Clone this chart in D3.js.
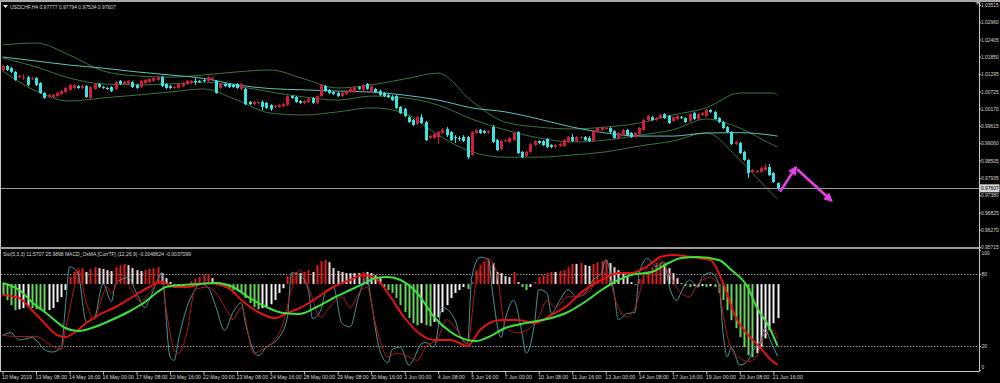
<!DOCTYPE html>
<html>
<head>
<meta charset="utf-8">
<script src="https://cdn.jsdelivr.net/npm/d3@7/dist/d3.min.js"></script>
<style>
  body { margin: 0; background: #000; }
  svg { display: block; }
  text { font-family: "Liberation Sans", Arial, sans-serif; }
</style>
</head>
<body>
<svg width="1000" height="383"></svg>
<script>
// ---------- data ----------
const symbolTitle = "USDCHF,H4 0.97777 0.97794 0.97534 0.97607";
const indicatorTitle = "Sto(5,3,3) 11.5707 25.9898  MACD_OsMA [CurrTF] (12,26,9) -0.0048624 -0.0037099";

const timeLabels = ["10 May 2019", "13 May 08:00", "14 May 16:00", "16 May 00:00", "17 May 08:00", "20 May 16:00",
    "22 May 00:00", "23 May 08:00", "24 May 16:00", "28 May 00:00", "29 May 08:00", "30 May 16:00",
    "3 Jun 00:00", "4 Jun 08:00", "5 Jun 16:00", "7 Jun 00:00", "10 Jun 08:00", "11 Jun 16:00",
    "13 Jun 00:00", "14 Jun 08:00", "17 Jun 16:00", "19 Jun 00:00", "20 Jun 08:00", "21 Jun 16:00"];
const timeTickBars = [0, 8, 16, 24, 32, 40, 48, 56, 64, 72, 80, 88, 96, 104, 112, 120, 128, 136, 144, 152, 160, 168, 176, 184];

const priceTicks = [1.03515, 1.02960, 1.02405, 1.01850, 1.01295, 1.00725, 1.00170, 0.99615,
    0.99060, 0.98505, 0.97935, 0.97380, 0.96825, 0.96270, 0.95715];
const stochLevels = [20, 80];
const stochTicks = [0, 20, 80, 100];
const lastPrice = 0.97607;

// H4 candles, one entry per bar
const opens = [
    1.0142, 1.0155, 1.0148, 1.0136, 1.0119, 1.0116, 1.0119, 1.0113, 1.0116, 1.0100,
    1.0068, 1.0055, 1.0055, 1.0058, 1.0065, 1.0071, 1.0078, 1.0084, 1.0090, 1.0084,
    1.0090, 1.0052, 1.0081, 1.0097, 1.0087, 1.0084, 1.0087, 1.0081, 1.0107, 1.0097,
    1.0097, 1.0103, 1.0094, 1.0087, 1.0100, 1.0103, 1.0107, 1.0110, 1.0119, 1.0097,
    1.0090, 1.0084, 1.0084, 1.0090, 1.0097, 1.0100, 1.0107, 1.0107, 1.0110, 1.0107,
    1.0110, 1.0107, 1.0084, 1.0097, 1.0097, 1.0094, 1.0097, 1.0081, 1.0081, 1.0039,
    1.0032, 1.0036, 1.0039, 1.0036, 1.0029, 1.0023, 1.0023, 1.0026, 1.0029, 1.0058,
    1.0055, 1.0042, 1.0036, 1.0039, 1.0052, 1.0036, 1.0058, 1.0090, 1.0078, 1.0071,
    1.0068, 1.0058, 1.0065, 1.0071, 1.0071, 1.0087, 1.0078, 1.0097, 1.0074, 1.0081,
    1.0074, 1.0068, 1.0061, 1.0055, 1.0058, 1.0023, 1.0016, 0.9990, 0.9981, 0.9968,
    0.9990, 0.9974, 0.9923, 0.9923, 0.9926, 0.9939, 0.9952, 0.9942, 0.9926, 0.9923,
    0.9926, 0.9926, 0.9868, 0.9939, 0.9949, 0.9945, 0.9939, 0.9958, 0.9916, 0.9887,
    0.9913, 0.9910, 0.9916, 0.9942, 0.9878, 0.9865, 0.9878, 0.9900, 0.9913, 0.9913,
    0.9920, 0.9900, 0.9894, 0.9897, 0.9897, 0.9910, 0.9926, 0.9913, 0.9923, 0.9926,
    0.9923, 0.9913, 0.9942, 0.9949, 0.9952, 0.9955, 0.9945, 0.9923, 0.9932, 0.9949,
    0.9939, 0.9926, 0.9936, 0.9949, 0.9981, 0.9990, 0.9981, 0.9987, 1.0000, 0.9994,
    0.9978, 0.9984, 0.9990, 0.9987, 0.9978, 1.0003, 0.9984, 0.9997, 0.9994, 1.0013,
    1.0007, 0.9987, 0.9974, 0.9958, 0.9942, 0.9903, 0.9907, 0.9878, 0.9852, 0.9813,
    0.9813, 0.9813, 0.9820, 0.9829, 0.9810, 0.97777];
const highs = [
    1.0158, 1.0158, 1.0152, 1.0139, 1.0126, 1.0129, 1.0123, 1.0119, 1.0119, 1.0103,
    1.0071, 1.0065, 1.0065, 1.0071, 1.0078, 1.0087, 1.0097, 1.0097, 1.0094, 1.0094,
    1.0094, 1.0090, 1.0100, 1.0100, 1.0090, 1.0087, 1.0090, 1.0107, 1.0110, 1.0107,
    1.0110, 1.0107, 1.0097, 1.0110, 1.0113, 1.0116, 1.0119, 1.0123, 1.0123, 1.0100,
    1.0094, 1.0090, 1.0100, 1.0103, 1.0110, 1.0110, 1.0116, 1.0110, 1.0116, 1.0123,
    1.0119, 1.0110, 1.0100, 1.0100, 1.0100, 1.0097, 1.0100, 1.0100, 1.0084, 1.0042,
    1.0042, 1.0042, 1.0045, 1.0039, 1.0032, 1.0029, 1.0032, 1.0036, 1.0061, 1.0061,
    1.0058, 1.0045, 1.0045, 1.0052, 1.0055, 1.0061, 1.0097, 1.0094, 1.0081, 1.0074,
    1.0071, 1.0071, 1.0078, 1.0084, 1.0090, 1.0090, 1.0097, 1.0100, 1.0094, 1.0084,
    1.0078, 1.0071, 1.0065, 1.0061, 1.0061, 1.0026, 1.0020, 0.9994, 0.9984, 0.9994,
    1.0000, 0.9978, 0.9932, 0.9939, 0.9945, 0.9955, 0.9958, 0.9945, 0.9932, 0.9929,
    0.9932, 0.9929, 0.9945, 0.9952, 0.9952, 0.9949, 0.9949, 0.9965, 0.9920, 0.9916,
    0.9920, 0.9926, 0.9942, 0.9945, 0.9881, 0.9881, 0.9907, 0.9916, 0.9916, 0.9916,
    0.9923, 0.9903, 0.9903, 0.9907, 0.9920, 0.9929, 0.9936, 0.9929, 0.9929, 0.9929,
    0.9929, 0.9949, 0.9958, 0.9961, 0.9958, 0.9958, 0.9949, 0.9942, 0.9952, 0.9952,
    0.9942, 0.9942, 0.9958, 0.9984, 0.9997, 0.9994, 0.9990, 1.0000, 1.0003, 0.9997,
    0.9994, 0.9997, 0.9994, 0.9990, 1.0003, 1.0007, 1.0003, 1.0007, 1.0016, 1.0016,
    1.0010, 0.9990, 0.9978, 0.9961, 0.9945, 0.9913, 0.9910, 0.9881, 0.9855, 0.9823,
    0.9820, 0.9829, 0.9839, 0.9839, 0.9813, 0.97794];
const lows = [
    1.0139, 1.0139, 1.0132, 1.0107, 1.0116, 1.0110, 1.0090, 1.0110, 1.0090, 1.0065,
    1.0049, 1.0052, 1.0052, 1.0055, 1.0061, 1.0068, 1.0074, 1.0081, 1.0081, 1.0081,
    1.0052, 1.0049, 1.0078, 1.0084, 1.0081, 1.0078, 1.0071, 1.0078, 1.0094, 1.0094,
    1.0094, 1.0084, 1.0081, 1.0084, 1.0097, 1.0100, 1.0103, 1.0107, 1.0087, 1.0081,
    1.0081, 1.0081, 1.0081, 1.0087, 1.0094, 1.0097, 1.0094, 1.0100, 1.0103, 1.0103,
    1.0107, 1.0065, 1.0081, 1.0087, 1.0084, 1.0084, 1.0081, 1.0078, 1.0029, 1.0029,
    1.0029, 1.0032, 1.0013, 1.0016, 1.0010, 1.0020, 1.0020, 1.0023, 1.0026, 1.0049,
    1.0036, 1.0032, 1.0032, 1.0036, 1.0032, 1.0032, 1.0055, 1.0071, 1.0065, 1.0061,
    1.0055, 1.0055, 1.0061, 1.0068, 1.0068, 1.0078, 1.0074, 1.0078, 1.0071, 1.0068,
    1.0058, 1.0055, 1.0052, 1.0042, 1.0016, 1.0000, 0.9990, 0.9971, 0.9961, 0.9965,
    0.9968, 0.9913, 0.9920, 0.9920, 0.9903, 0.9936, 0.9926, 0.9913, 0.9907, 0.9913,
    0.9910, 0.9855, 0.9865, 0.9936, 0.9936, 0.9936, 0.9936, 0.9907, 0.9881, 0.9884,
    0.9910, 0.9907, 0.9913, 0.9871, 0.9858, 0.9861, 0.9874, 0.9897, 0.9903, 0.9897,
    0.9890, 0.9890, 0.9890, 0.9894, 0.9894, 0.9907, 0.9910, 0.9910, 0.9920, 0.9913,
    0.9910, 0.9910, 0.9939, 0.9945, 0.9949, 0.9939, 0.9920, 0.9920, 0.9929, 0.9929,
    0.9923, 0.9923, 0.9932, 0.9945, 0.9978, 0.9978, 0.9978, 0.9984, 0.9984, 0.9968,
    0.9974, 0.9981, 0.9984, 0.9971, 0.9974, 0.9981, 0.9981, 0.9994, 0.9990, 1.0003,
    0.9981, 0.9971, 0.9952, 0.9939, 0.9900, 0.9900, 0.9871, 0.9849, 0.9794, 0.9810,
    0.9810, 0.9810, 0.9816, 0.9800, 0.9778, 0.97534];
const closes = [
    1.0155, 1.0142, 1.0136, 1.0110, 1.0123, 1.0119, 1.0094, 1.0116, 1.0094, 1.0068,
    1.0052, 1.0061, 1.0061, 1.0068, 1.0074, 1.0084, 1.0094, 1.0094, 1.0084, 1.0090,
    1.0055, 1.0087, 1.0097, 1.0087, 1.0084, 1.0081, 1.0074, 1.0103, 1.0097, 1.0103,
    1.0107, 1.0087, 1.0084, 1.0107, 1.0110, 1.0113, 1.0116, 1.0119, 1.0090, 1.0084,
    1.0084, 1.0087, 1.0097, 1.0100, 1.0107, 1.0107, 1.0103, 1.0103, 1.0107, 1.0119,
    1.0116, 1.0068, 1.0097, 1.0090, 1.0087, 1.0087, 1.0084, 1.0097, 1.0032, 1.0032,
    1.0039, 1.0039, 1.0023, 1.0020, 1.0016, 1.0026, 1.0029, 1.0032, 1.0058, 1.0052,
    1.0039, 1.0036, 1.0042, 1.0049, 1.0036, 1.0058, 1.0094, 1.0074, 1.0068, 1.0065,
    1.0058, 1.0068, 1.0074, 1.0081, 1.0087, 1.0081, 1.0094, 1.0081, 1.0090, 1.0071,
    1.0061, 1.0058, 1.0055, 1.0045, 1.0020, 1.0003, 0.9994, 0.9974, 0.9965, 0.9990,
    0.9971, 0.9916, 0.9929, 0.9936, 0.9942, 0.9949, 0.9932, 0.9916, 0.9923, 0.9920,
    0.9913, 0.9861, 0.9942, 0.9949, 0.9939, 0.9939, 0.9945, 0.9910, 0.9884, 0.9913,
    0.9916, 0.9923, 0.9939, 0.9874, 0.9861, 0.9878, 0.9903, 0.9913, 0.9907, 0.9900,
    0.9894, 0.9894, 0.9900, 0.9903, 0.9916, 0.9926, 0.9913, 0.9926, 0.9926, 0.9916,
    0.9913, 0.9945, 0.9955, 0.9958, 0.9955, 0.9942, 0.9923, 0.9939, 0.9949, 0.9932,
    0.9926, 0.9939, 0.9955, 0.9981, 0.9994, 0.9981, 0.9987, 0.9997, 0.9987, 0.9971,
    0.9990, 0.9994, 0.9987, 0.9974, 1.0000, 0.9984, 1.0000, 1.0003, 1.0013, 1.0007,
    0.9984, 0.9974, 0.9955, 0.9942, 0.9903, 0.9910, 0.9874, 0.9852, 0.9810, 0.9820,
    0.9816, 0.9826, 0.9829, 0.9803, 0.9781, 0.97607];

// Bollinger bands and slow MA, read every 8 bars
const bandBars = [0, 8, 16, 24, 32, 40, 48, 56, 64, 72, 80, 88, 96, 104, 112, 120, 128, 136, 144, 152, 160, 168, 176, 184, 185];
const bbUpper = [1.0223, 1.0229, 1.0190, 1.0139, 1.0123, 1.0119, 1.0126, 1.0136, 1.0142, 1.0113, 1.0084, 1.0094, 1.0113,
    1.0132, 1.0042, 0.9974, 0.9958, 0.9952, 0.9958, 0.9971, 0.9997, 1.0020, 1.0068, 1.0068, 1.0061];
const bbMiddle = [1.0181, 1.0152, 1.0116, 1.0097, 1.0094, 1.0097, 1.0103, 1.0090, 1.0071, 1.0055, 1.0045, 1.0058, 1.0052,
    1.0029, 0.9984, 0.9949, 0.9923, 0.9910, 0.9916, 0.9932, 0.9949, 0.9984, 0.9955, 0.9900, 0.9894];
const bbLower = [1.0139, 1.0074, 1.0042, 1.0052, 1.0061, 1.0071, 1.0081, 1.0045, 1.0003, 0.9997, 1.0007, 1.0020, 1.0003,
    0.9932, 0.9878, 0.9861, 0.9861, 0.9868, 0.9878, 0.9897, 0.9913, 0.9939, 0.9852, 0.9739, 0.9726];
const maSlow = [1.0184, 1.0171, 1.0158, 1.0148, 1.0136, 1.0126, 1.0115, 1.0094, 1.0082, 1.0078, 1.0074, 1.0071, 1.0061,
    1.0045, 1.0020, 1.0007, 0.9984, 0.9958, 0.9939, 0.9929, 0.9929, 0.9939, 0.9940, 0.9931, 0.9929];

// MACD_OsMA histogram, one value per bar
const osma = [
    -0.00037, -0.00054, -0.00071, -0.00088, -0.00085, -0.00081, -0.00078, -0.00081, -0.00085, -0.00088,
    -0.00091, -0.00088, -0.00081, -0.00061, -0.00044, -0.00020, 0.00024, 0.00041, 0.00047, 0.00054,
    0.00041, 0.00051, 0.00057, 0.00054, 0.00051, 0.00047, 0.00044, 0.00057, 0.00064, 0.00068,
    0.00064, 0.00054, 0.00047, 0.00044, 0.00047, 0.00051, 0.00054, 0.00057, 0.00037, 0.00020,
    0.00007, -0.00010, -0.00010, -0.00007, -0.00003, 0.00010, 0.00017, 0.00024, 0.00030, 0.00034,
    0.00020, 0.00007, -0.00007, -0.00010, -0.00017, -0.00020, -0.00024, -0.00030, -0.00047, -0.00064,
    -0.00078, -0.00085, -0.00081, -0.00078, -0.00068, -0.00054, -0.00030, -0.00014, 0.00027, 0.00037,
    0.00041, 0.00037, 0.00041, 0.00047, 0.00041, 0.00064, 0.00078, 0.00081, 0.00074, 0.00054,
    0.00044, 0.00041, 0.00037, 0.00037, 0.00037, 0.00037, 0.00041, 0.00041, 0.00037, 0.00030,
    0.00020, -0.00010, -0.00020, -0.00030, -0.00047, -0.00071, -0.00095, -0.00115, -0.00132, -0.00139,
    -0.00132, -0.00139, -0.00142, -0.00128, -0.00112, -0.00095, -0.00071, -0.00047, -0.00030, -0.00020,
    -0.00010, -0.00017, 0.00007, 0.00047, 0.00064, 0.00074, 0.00081, 0.00071, 0.00041, 0.00037,
    0.00027, 0.00024, 0.00041, 0.00007, -0.00010, -0.00020, -0.00010, 0.00007, 0.00024, 0.00030,
    0.00037, 0.00041, 0.00041, 0.00044, 0.00047, 0.00057, 0.00068, 0.00068, 0.00071, 0.00064,
    0.00061, 0.00068, 0.00074, 0.00078, 0.00081, 0.00071, 0.00057, 0.00047, 0.00037, 0.00024,
    0.00007, -0.00003, 0.00017, 0.00034, 0.00044, 0.00057, 0.00071, 0.00074, 0.00068, 0.00054,
    0.00037, 0.00020, 0.00003, -0.00007, -0.00010, -0.00007, -0.00010, -0.00007, -0.00010, -0.00007,
    -0.00010, -0.00030, -0.00054, -0.00088, -0.00122, -0.00149, -0.00179, -0.00213, -0.00240, -0.00247,
    -0.00233, -0.00213, -0.00183, -0.00155, -0.00132, -0.00115];

// [bar, value] pairs
const macdMain = [[0, -0.00066], [4, -0.00084], [7, -0.00156], [10, -0.00234], [13, -0.00306], [15, -0.00318],
    [18, -0.00276], [20, -0.00234], [23, -0.00186], [27, -0.00138], [31, -0.00078], [35, -0.00018], [38, 0.00012],
    [41, -0.00018], [44, -0.00018], [49, 0.00006], [54, -0.00024], [57, -0.00096], [61, -0.00168], [65, -0.00204],
    [68, -0.00174], [71, -0.00144], [75, -0.00084], [79, -0.00018], [83, 0.00024], [86, 0.00054], [89, 0.00036],
    [92, -0.00054], [96, -0.00204], [100, -0.00306], [103, -0.00336], [107, -0.00336], [111, -0.00372], [114, -0.00276],
    [119, -0.00216], [123, -0.00216], [127, -0.00234], [131, -0.00186], [135, -0.00126], [138, -0.00054], [143, 0.00024],
    [147, 0.00066], [150, 0.00066], [154, 0.00108], [157, 0.00162], [160, 0.00174], [166, 0.00156], [169, 0.00144],
    [172, 0.00006], [175, -0.00198], [178, -0.00306], [181, -0.00384], [183, -0.00444], [185, -0.0048624]];
const macdSignal = [[0, 0.00006], [4, -0.00036], [7, -0.00108], [11, -0.00186], [15, -0.00264], [18, -0.00282],
    [22, -0.00258], [26, -0.00216], [30, -0.00168], [34, -0.00108], [37, -0.00048], [39, -0.00018], [43, -0.00006],
    [47, 0], [51, 0.00006], [55, -0.00018], [59, -0.00084], [63, -0.00138], [67, -0.00174], [71, -0.0018],
    [75, -0.00138], [79, -0.00084], [83, -0.00036], [87, 0.00012], [89, 0.00036], [92, 0.00042], [95, 0.00024],
    [99, -0.00054], [103, -0.00198], [107, -0.00288], [111, -0.00336], [113, -0.00342], [116, -0.00318], [120, -0.00264],
    [125, -0.00234], [131, -0.00204], [135, -0.00168], [139, -0.00108], [143, -0.00036], [147, 0.00024], [150, 0.00054],
    [155, 0.00072], [159, 0.00126], [162, 0.00156], [166, 0.00162], [171, 0.00144], [174, 0.00084], [178, -0.00024],
    [180, -0.00138], [183, -0.00258], [185, -0.0037099]];
const stochMain = [[0, 29], [2, 31], [4, 25], [7, 27], [8, 25], [10, 17], [12, 15], [14, 19], [15, 52], [16, 86],
    [18, 81], [20, 40], [22, 44], [24, 72], [26, 57], [27, 72], [30, 77], [32, 64], [34, 52], [35, 58], [37, 75],
    [38, 81], [40, 11], [41, 8], [42, 25], [44, 52], [46, 67], [47, 72], [49, 69], [51, 52], [53, 33], [55, 48],
    [57, 56], [58, 39], [61, 12], [63, 19], [66, 27], [68, 44], [69, 81], [71, 79], [73, 67], [74, 43], [76, 50],
    [77, 64], [79, 69], [81, 39], [83, 36], [85, 61], [87, 77], [88, 58], [90, 17], [92, 6], [93, 17], [95, 19],
    [97, 4], [98, 8], [100, 22], [101, 23], [103, 19], [105, 52], [108, 42], [109, 31], [111, 22], [112, 77],
    [114, 94], [116, 92], [117, 64], [119, 27], [120, 42], [122, 58], [124, 31], [125, 14], [127, 39], [128, 67],
    [130, 64], [131, 47], [133, 58], [135, 67], [137, 61], [139, 64], [141, 75], [143, 81], [144, 92], [146, 64],
    [147, 42], [149, 47], [151, 48], [152, 81], [154, 93], [156, 86], [158, 90], [159, 72], [161, 58], [162, 65],
    [164, 75], [166, 69], [167, 77], [169, 81], [171, 72], [172, 31], [173, 11], [174, 19], [176, 4], [178, 8],
    [179, 15], [181, 25], [182, 35], [183, 27], [185, 11.5707]];
const stochSignal = [[0, 29], [3, 28], [8, 28], [11, 22], [14, 17], [15, 33], [17, 67], [18, 85], [20, 56], [22, 42],
    [23, 52], [25, 69], [26, 64], [28, 77], [30, 71], [33, 57], [35, 64], [38, 75], [39, 52], [41, 17], [42, 14],
    [44, 31], [46, 67], [49, 69], [51, 64], [54, 47], [55, 42], [57, 52], [60, 14], [62, 17], [65, 25], [67, 39],
    [69, 67], [70, 77], [71, 83], [73, 69], [76, 44], [78, 52], [81, 61], [83, 52], [85, 64], [87, 69], [89, 39],
    [92, 11], [94, 14], [97, 11], [99, 8], [101, 19], [104, 27], [106, 42], [108, 36], [111, 22], [113, 72],
    [116, 93], [118, 81], [120, 36], [123, 31], [125, 33], [128, 44], [130, 58], [132, 52], [135, 61], [137, 61],
    [140, 65], [142, 77], [144, 81], [147, 52], [149, 44], [151, 52], [154, 86], [157, 92], [159, 81], [162, 64],
    [164, 61], [166, 72], [169, 77], [171, 71], [172, 47], [174, 17], [176, 10], [178, 7], [180, 11], [182, 31],
    [184, 33], [185, 25.9898]];

// hand-drawn arrows: [bar, price] from -> to
const arrows = [
    {from: [185.6, 0.97498], to: [189.4, 0.98284]},
    {from: [189.7, 0.98220], to: [197.9, 0.97207]}
];

// ---------- layout ----------
let svg = d3.select("svg");
let paneRight = 979.5;
let main = {top: 4, bottom: 247};
let sub = {top: 250, bottom: 370, frame: 371.5};
let fontSize = 4.9;
let titleSize = 5;
let timeSize = 5.2;
let textColor = "#d8d8d8";

let x = d3.scaleLinear().domain([0, 185]).range([2.5, 777.5]);
let y = d3.scaleLinear().domain([0.95715, 1.03515]).range([247, 5]);
let stochY = d3.scaleLinear().domain([0, 100]).range([sub.bottom, sub.top]);
let macdY = d3.scaleLinear().domain([-0.00516, 0.00204]).range([sub.bottom, sub.top]);
let osmaY = d3.scaleLinear().domain([-0.0029, 0.00115]).range([sub.bottom, sub.top]);

let defs = svg.append("defs");
defs.append("clipPath").attr("id", "clipMain").append("rect")
    .attr("x", 1).attr("y", main.top).attr("width", paneRight - 1).attr("height", main.bottom - main.top);
defs.append("clipPath").attr("id", "clipSub").append("rect")
    .attr("x", 1).attr("y", sub.top - 1).attr("width", paneRight - 1).attr("height", sub.frame - sub.top + 1);
defs.append("marker")
    .attr("id", "arrowHead")
    .attr("viewBox", "0 0 10 10")
    .attr("refX", 8).attr("refY", 5)
    .attr("markerWidth", 11).attr("markerHeight", 9)
    .attr("markerUnits", "userSpaceOnUse")
    .attr("orient", "auto")
    .append("path").attr("d", "M0,0L10,5L0,10z").attr("fill", "#e83ee8");

svg.append("rect").attr("width", 1000).attr("height", 383).attr("fill", "#000");

// window frame
svg.append("rect").attr("x", 0).attr("y", 0).attr("width", 1000).attr("height", 2).attr("fill", "#a8a8a8");
svg.append("path").attr("d", "M975,2L981,2L978,5Z").attr("fill", "#8a8a8a");
svg.append("line").attr("x1", 0.5).attr("x2", 0.5).attr("y1", 2).attr("y2", sub.frame)
    .attr("stroke", "#c8c8c8");
svg.append("line").attr("x1", paneRight).attr("x2", paneRight).attr("y1", 2).attr("y2", sub.frame)
    .attr("stroke", "#c8c8c8");
svg.append("rect").attr("x", 0).attr("y", 247).attr("width", paneRight + 1).attr("height", 2)
    .attr("fill", "#9c9c9c");
svg.append("line").attr("x1", 0).attr("x2", paneRight).attr("y1", sub.frame).attr("y2", sub.frame)
    .attr("stroke", "#c8c8c8");

// ---------- price pane ----------
let mainG = svg.append("g").attr("clip-path", "url(#clipMain)");

function bandLine(values) {
    return d3.line()
        .x((d, i) => x(bandBars[i]))
        .y(d => y(d))
        .curve(d3.curveMonotoneX)(values);
}

[bbUpper, bbMiddle, bbLower].forEach(function (vals) {
    mainG.append("path").attr("d", bandLine(vals))
        .attr("fill", "none").attr("stroke", "#37773a").attr("stroke-width", 1);
});
mainG.append("path").attr("d", bandLine(maSlow))
    .attr("fill", "none").attr("stroke", "#5fc2c2").attr("stroke-width", 1);

let bull = "#d21c3c", bear = "#3ee4e4";
let barIdx = d3.range(closes.length);
let candle = mainG.selectAll("g.candle").data(barIdx).join("g").attr("class", "candle");
candle.append("line")
    .attr("x1", i => Math.round(x(i)) + 0.5)
    .attr("x2", i => Math.round(x(i)) + 0.5)
    .attr("y1", i => y(highs[i]))
    .attr("y2", i => y(lows[i]))
    .attr("stroke", i => closes[i] >= opens[i] ? bull : bear);
candle.append("rect")
    .attr("x", i => Math.round(x(i)) - 1)
    .attr("width", 3)
    .attr("y", i => y(Math.max(opens[i], closes[i])))
    .attr("height", i => Math.max(1, Math.abs(y(opens[i]) - y(closes[i]))))
    .attr("fill", i => closes[i] >= opens[i] ? bull : bear);

// bid line
mainG.append("line").attr("x1", 0).attr("x2", paneRight)
    .attr("y1", Math.round(y(lastPrice)) + 0.5).attr("y2", Math.round(y(lastPrice)) + 0.5)
    .attr("stroke", "#9a9a9a");

// arrows
svg.append("g").selectAll("line").data(arrows).join("line")
    .attr("x1", d => x(d.from[0])).attr("y1", d => y(d.from[1]))
    .attr("x2", d => x(d.to[0])).attr("y2", d => y(d.to[1]))
    .attr("stroke", "#e83ee8").attr("stroke-width", 2.6)
    .attr("marker-end", "url(#arrowHead)");

// price axis
let priceAxis = svg.append("g")
    .attr("transform", "translate(" + paneRight + ",0)")
    .call(d3.axisRight(y).tickValues(priceTicks).tickFormat(d3.format(".5f")).tickSize(1.5).tickPadding(0));
priceAxis.select(".domain").remove();

let bidG = svg.append("g").attr("transform", "translate(" + (paneRight + 0.5) + "," + y(lastPrice) + ")");
bidG.append("rect").attr("x", 0).attr("y", -4).attr("width", 19.5).attr("height", 8)
    .attr("fill", "#d4d4d4");
bidG.append("text").attr("x", 1).attr("dy", "0.35em").attr("fill", "#000").attr("font-size", fontSize)
    .text(d3.format(".5f")(lastPrice));

// titles
svg.append("path").attr("d", "M3,5L8,5L5.5,8Z").attr("fill", "#e8e8e8");
svg.append("text").attr("x", 10).attr("y", 8.5).attr("font-size", titleSize).attr("fill", textColor).text(symbolTitle);
svg.append("text").attr("x", 3).attr("y", 256).attr("font-size", titleSize).attr("fill", textColor).text(indicatorTitle);

// ---------- indicator pane ----------
let subG = svg.append("g").attr("clip-path", "url(#clipSub)");

subG.selectAll("line.level").data(stochLevels).join("line").attr("class", "level")
    .attr("x1", 1).attr("x2", paneRight)
    .attr("y1", d => Math.round(stochY(d)) + 0.5).attr("y2", d => Math.round(stochY(d)) + 0.5)
    .attr("stroke", "#9a9a9a").attr("stroke-dasharray", "1.5,1.5");

function histColor(i) {
    let v = osma[i], prev = i > 0 ? osma[i - 1] : 0;
    if (v > 0) return v > prev ? "#dc1e1e" : "#f0d8d8";
    return v < prev ? "#6ad35a" : "#f2f2f2";
}

subG.selectAll("rect.hist").data(barIdx).join("rect").attr("class", "hist")
    .attr("x", i => Math.round(x(i)) - 0.5)
    .attr("width", 2)
    .attr("y", i => Math.min(osmaY(0), osmaY(osma[i])))
    .attr("height", i => Math.max(0.8, Math.abs(osmaY(osma[i]) - osmaY(0))))
    .attr("fill", histColor);

function pairLine(scale) {
    return d3.line().x(d => x(d[0])).y(d => scale(d[1])).curve(d3.curveMonotoneX);
}

subG.append("path").datum(stochMain).attr("d", pairLine(stochY))
    .attr("fill", "none").attr("stroke", "#4f9696").attr("stroke-width", 1);
subG.append("path").datum(stochSignal).attr("d", pairLine(stochY))
    .attr("fill", "none").attr("stroke", "#b41a1a").attr("stroke-width", 1);
subG.append("path").datum(macdMain).attr("d", pairLine(macdY))
    .attr("fill", "none").attr("stroke", "#e01414").attr("stroke-width", 2);
subG.append("path").datum(macdSignal).attr("d", pairLine(macdY))
    .attr("fill", "none").attr("stroke", "#3ee03e").attr("stroke-width", 2);

let stochAxis = svg.append("g")
    .attr("transform", "translate(" + paneRight + ",0)")
    .call(d3.axisRight(stochY).tickValues(stochTicks).tickSize(1.5).tickPadding(0.5));
stochAxis.select(".domain").remove();
stochAxis.selectAll(".tick text")
    .attr("y", d => d === 100 ? 3 : (d === 0 ? -3 : 0));

// time axis
let timeAxis = svg.append("g")
    .attr("transform", "translate(0," + sub.frame + ")")
    .call(d3.axisBottom(x).tickValues(timeTickBars).tickFormat((d, i) => timeLabels[i]).tickSize(3).tickPadding(0.5));
timeAxis.select(".domain").remove();
timeAxis.selectAll(".tick text").attr("text-anchor", "start").attr("x", -1);

// axis styling
[priceAxis, stochAxis, timeAxis].forEach(function (g) {
    g.attr("font-size", fontSize).attr("font-family", "Liberation Sans, Arial, sans-serif");
    g.selectAll(".tick line").attr("stroke", "#c8c8c8");
    g.selectAll(".tick text").attr("fill", textColor);
});
timeAxis.attr("font-size", timeSize);
</script>
</body>
</html>
